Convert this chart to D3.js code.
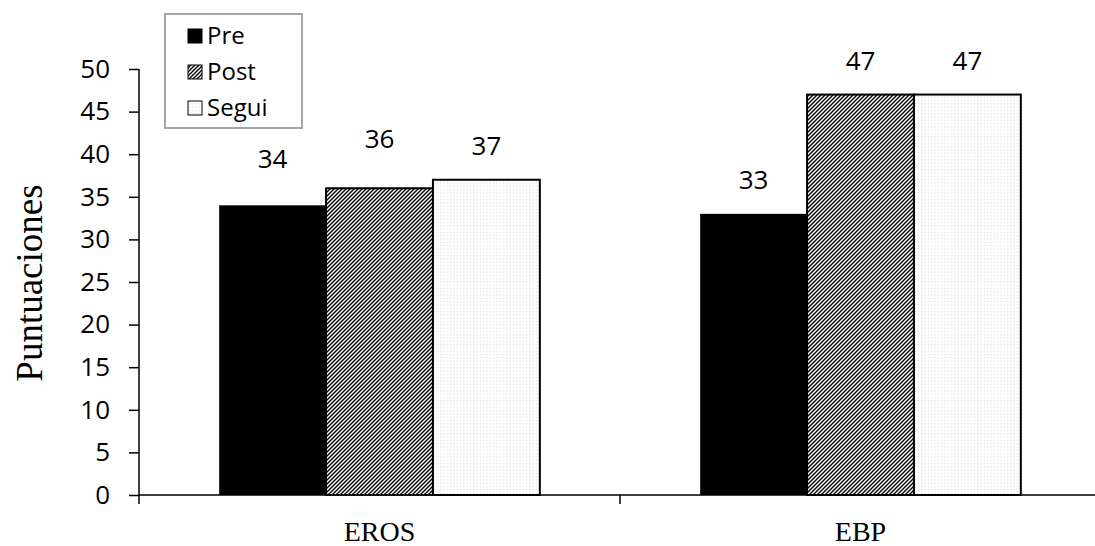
<!DOCTYPE html>
<html>
<head>
<meta charset="utf-8">
<script src="https://cdn.jsdelivr.net/npm/d3@7"></script>
<style>
  html, body { margin: 0; padding: 0; background: #fff; }
  svg { display: block; }
</style>
</head>
<body>
<svg id="chart" width="1095" height="546"></svg>
<script>
// Scores by scale and measurement moment
const categories = ["EROS", "EBP"];
const seriesNames = ["Pre", "Post", "Segui"];
const pre = [34, 33];
const post = [36, 47];
const segui = [37, 47];
const yTicks = [0, 5, 10, 15, 20, 25, 30, 35, 40, 45, 50];
const yTitle = "Puntuaciones";

const seriesValues = [pre, post, segui];

const svg = d3.select("#chart");
const plotLeft = 139, plotRight = 1101, plotTop = 69, plotBottom = 495;
const sansFont = "'Open Sans', 'Noto Sans', sans-serif";
const serifFont = "'Liberation Serif', 'Times New Roman', serif";

const defs = svg.append("defs");
// diagonal hatching for "Post"
const hatch = defs.append("pattern")
  .attr("id", "hatch").attr("patternUnits", "userSpaceOnUse")
  .attr("width", 4).attr("height", 4);
hatch.append("rect").attr("width", 4).attr("height", 4).attr("fill", "#fff");
hatch.append("path").attr("d", "M-1,1 l2,-2 M0,4 l4,-4 M3,5 l2,-2")
  .attr("stroke", "#000").attr("stroke-width", 1.4);
// fine dots for "Segui"
const dots = defs.append("pattern")
  .attr("id", "dots").attr("patternUnits", "userSpaceOnUse")
  .attr("width", 3.3).attr("height", 3.3);
dots.append("rect").attr("width", 3.3).attr("height", 3.3).attr("fill", "#fff");
dots.append("rect").attr("x", 1).attr("y", 1).attr("width", 1).attr("height", 1).attr("fill", "#d0d0d0");
const fills = ["#000", "url(#hatch)", "url(#dots)"];

const x = d3.scaleBand().domain(categories).range([plotLeft, plotRight]).paddingInner(0).paddingOuter(0);
const xs = d3.scaleBand().domain(seriesNames).range([0, x.bandwidth()]).paddingOuter(0.75).paddingInner(0);
const y = d3.scaleLinear().domain([0, 50]).range([plotBottom, plotTop]);

// hand-placed label nudges (dx, dy) per category, per series
const labelNudge = [[[0, -12], [0, -15], [0, 0]], [[0, 0], [0, 0], [0, 0]]];

// bars and value labels
const groups = svg.append("g").selectAll("g").data(categories).join("g")
  .attr("transform", d => `translate(${x(d)},0)`);
groups.each(function(cat, ci) {
  const g = d3.select(this);
  seriesNames.forEach((s, si) => {
    const v = seriesValues[si][ci];
    g.append("rect")
      .attr("x", xs(s)).attr("y", y(v))
      .attr("width", xs.bandwidth()).attr("height", y(0) - y(v))
      .attr("fill", fills[si])
      .attr("stroke", "#000").attr("stroke-width", si === 0 ? 0 : 2);
    const [dx, dy] = labelNudge[ci][si];
    g.append("text")
      .attr("x", xs(s) + xs.bandwidth() / 2 + dx).attr("y", y(v) - 25 + dy)
      .attr("text-anchor", "middle")
      .attr("font-family", sansFont)
      .attr("font-size", 26).attr("fill", "#000")
      .text(v);
  });
});

// y axis
const yAxis = svg.append("g").attr("transform", `translate(${plotLeft},0)`)
  .call(d3.axisLeft(y).tickValues(yTicks).tickSize(10).tickPadding(19));
yAxis.selectAll("text")
  .attr("font-family", sansFont)
  .attr("font-size", 26).attr("fill", "#000");
yAxis.select(".domain").attr("stroke", "#000").attr("stroke-width", 1.5).attr("d", `M0,${plotTop}V${plotBottom + 9}`);
yAxis.selectAll(".tick line").attr("stroke", "#000").attr("stroke-width", 1.5);

// x axis: baseline with separators between categories
const xAxis = svg.append("g");
xAxis.append("line").attr("x1", plotLeft).attr("x2", plotRight).attr("y1", plotBottom).attr("y2", plotBottom)
  .attr("stroke", "#000").attr("stroke-width", 1.5);
categories.forEach((c, i) => {
  if (i > 0) {
    xAxis.append("line").attr("x1", x(c)).attr("x2", x(c)).attr("y1", plotBottom).attr("y2", plotBottom + 9)
      .attr("stroke", "#000").attr("stroke-width", 1.5);
  }
  xAxis.append("text")
    .attr("x", x(c) + x.bandwidth() / 2).attr("y", 541)
    .attr("text-anchor", "middle")
    .attr("font-family", serifFont)
    .attr("font-size", 28).attr("fill", "#000")
    .text(c);
});

// y axis title
svg.append("text")
  .attr("transform", "translate(42,283) rotate(-90)")
  .attr("text-anchor", "middle")
  .attr("font-family", serifFont)
  .attr("font-size", 37).attr("fill", "#000")
  .text(yTitle);

// legend
const legend = svg.append("g");
legend.append("rect").attr("x", 165).attr("y", 14).attr("width", 137).attr("height", 114)
  .attr("fill", "#fff").attr("stroke", "#a6a6a6").attr("stroke-width", 2);
seriesNames.forEach((s, i) => {
  const base = 44 + i * 36;
  legend.append("rect").attr("x", 188).attr("y", base - 15).attr("width", 14).attr("height", 14)
    .attr("fill", fills[i]).attr("stroke", "#000").attr("stroke-width", 1);
  legend.append("text").attr("x", 207).attr("y", base)
    .attr("font-family", sansFont)
    .attr("font-size", 24).attr("fill", "#000")
    .text(s);
});
</script>
</body>
</html>
